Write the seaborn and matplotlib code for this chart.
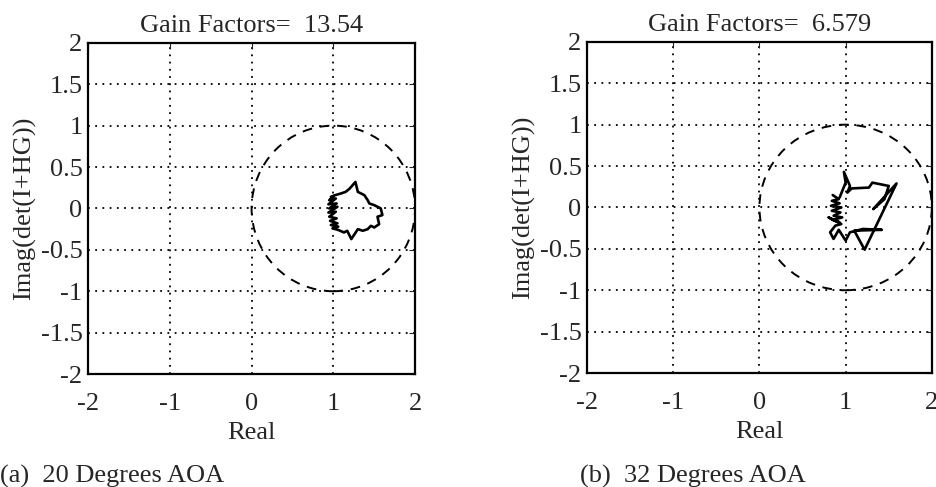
import matplotlib
matplotlib.use("Agg")
import matplotlib.pyplot as plt
import seaborn as sns

# valeurs (lieu de det(I+HG))
left_real = [1.00, 0.95, 1.03, 0.94, 1.04, 0.95, 1.05, 0.94, 1.03, 0.95, 1.04, 0.96, 1.05, 0.97, 1.06, 0.99, 1.06,
             1.13, 1.17, 1.20, 1.22, 1.26, 1.30, 1.36, 1.42, 1.46, 1.50, 1.56, 1.54, 1.60, 1.58, 1.50, 1.44,
             1.42, 1.38, 1.30, 1.27, 1.20, 1.15, 1.09, 1.02, 0.97]
left_imag = [0.14, 0.10, 0.12, 0.05, 0.06, 0.00, 0.02, -0.05, -0.04, -0.10, -0.12, -0.15, -0.18, -0.20, -0.22, -0.24, -0.26,
             -0.29, -0.27, -0.33, -0.37, -0.31, -0.25, -0.27, -0.25, -0.21, -0.23, -0.19, -0.10, -0.08, 0.00, 0.04, 0.06,
             0.10, 0.16, 0.20, 0.32, 0.24, 0.20, 0.18, 0.16, 0.14]

right_real = [0.85, 0.92, 0.84, 0.93, 0.83, 0.95, 0.84, 0.94, 0.86, 0.96, 0.85, 0.93, 0.80, 0.95, 0.88,
              0.82, 0.86, 0.92, 1.00, 1.05, 1.20, 1.42, 1.10, 1.22, 1.59, 1.32, 1.45, 1.50, 1.31, 1.27,
              1.07, 1.02, 1.05, 0.98, 1.00, 0.93]
right_imag = [0.15, 0.10, 0.08, 0.05, 0.02, 0.00, -0.04, -0.06, -0.10, -0.12, -0.15, -0.18, -0.12, -0.20, -0.22,
              -0.30, -0.38, -0.27, -0.40, -0.30, -0.26, -0.27, -0.28, -0.51, 0.29, -0.02, 0.10, 0.26, 0.30, 0.24,
              0.23, 0.18, 0.26, 0.43, 0.30, 0.12]

gains = ["13.54", "6.579"]
captions = ["(a)  20 Degrees AOA", "(b)  32 Degrees AOA"]
ticks = [-2, -1, 0, 1, 2]
yticks = [-2, -1.5, -1, -0.5, 0, 0.5, 1, 1.5, 2]
ytick_labels = ["-2", "-1.5", "-1", "-0.5", "0", "0.5", "1", "1.5", "2"]
circle_center = (1, 0)
circle_radius = 1

sns.set_style("white")
plt.rcParams['font.family'] = ['Liberation Serif', 'DejaVu Serif']
fs = 19

fig = plt.figure(figsize=(9.37, 4.87), dpi=100)
axes = [fig.add_axes([0.094, 0.232, 0.349, 0.680]),
        fig.add_axes([0.6265, 0.234, 0.368, 0.680])]

data = [(left_real, left_imag), (right_real, right_imag)]
for ax, (re, im), g in zip(axes, data, gains):
    ax.add_patch(plt.Circle(circle_center, circle_radius, fill=False, color="black",
                            lw=1.4, linestyle=(0, (5, 4))))
    sns.lineplot(x=re, y=im, sort=False, estimator=None, color="black", lw=1.9, ax=ax)
    ax.set_xlim(-2, 2)
    ax.set_ylim(-2, 2)
    ax.set_xticks(ticks)
    ax.set_xticklabels([str(t) for t in ticks])
    ax.set_yticks(yticks)
    ax.set_yticklabels(ytick_labels)
    ax.grid(True, color="black", linestyle=(0, (1, 3)), lw=1.3)
    ax.tick_params(direction="in", length=4, top=True, right=True, labelsize=fs)
    ax.tick_params(axis="x", pad=14)
    ax.tick_params(axis="y", pad=4)
    for s in ax.spines.values():
        s.set_color("black")
        s.set_linewidth(1.6)
    ax.set_xlabel("Real", fontsize=fs, labelpad=5)
    ax.set_ylabel("Imag(det(I+HG))", fontsize=fs, labelpad=3)
    ax.set_title("Gain Factors=  " + g, fontsize=fs, pad=8)

fig.text(0.0, 0.022, captions[0], fontsize=fs, ha="left", va="center")
fig.text(0.619, 0.022, captions[1], fontsize=fs, ha="left", va="center")

plt.savefig("out.png", dpi=100)
